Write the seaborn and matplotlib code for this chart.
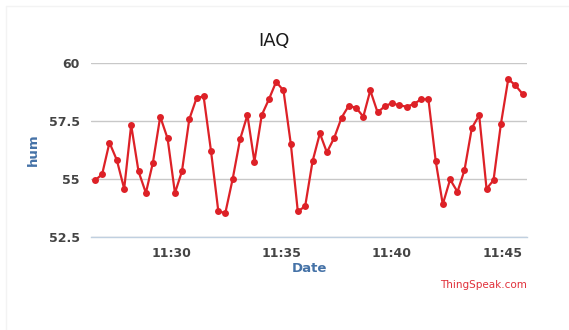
import pandas as pd
import matplotlib
matplotlib.use('Agg')
import matplotlib.pyplot as plt
import matplotlib.dates as mdates
import seaborn as sns

# Readings (time of day, humidity)
times = ['11:26:33', '11:26:52', '11:27:12', '11:27:32', '11:27:52', '11:28:11',
         '11:28:31', '11:28:51', '11:29:10', '11:29:30', '11:29:50', '11:30:10',
         '11:30:29', '11:30:49', '11:31:09', '11:31:28', '11:31:48', '11:32:08',
         '11:32:27', '11:32:47', '11:33:07', '11:33:27', '11:33:46', '11:34:06',
         '11:34:26', '11:34:45', '11:35:05', '11:35:25', '11:35:44', '11:36:04',
         '11:36:24', '11:36:44', '11:37:03', '11:37:23', '11:37:43', '11:38:02',
         '11:38:22', '11:38:42', '11:39:01', '11:39:21', '11:39:41', '11:40:00',
         '11:40:20', '11:40:40', '11:41:00', '11:41:19', '11:41:39', '11:41:59',
         '11:42:18', '11:42:38', '11:42:58', '11:43:17', '11:43:37', '11:43:57',
         '11:44:17', '11:44:36', '11:44:56', '11:45:16', '11:45:35', '11:45:55']
hum = [54.95, 55.2, 56.57, 55.82, 54.58, 57.33, 55.33, 54.4, 55.7, 57.69,
       56.75, 54.4, 55.33, 57.58, 58.5, 58.56, 56.21, 53.6, 53.54, 55.01,
       56.71, 57.76, 55.75, 57.76, 58.46, 59.19, 58.82, 56.51, 53.6, 53.83,
       55.76, 56.97, 56.15, 56.78, 57.65, 58.15, 58.08, 57.69, 58.82, 57.87,
       58.15, 58.27, 58.18, 58.12, 58.24, 58.44, 58.44, 55.76, 53.91, 54.98,
       54.45, 55.38, 57.2, 57.75, 54.58, 54.95, 57.37, 59.31, 59.05, 58.67]
y_ticks = [52.5, 55, 57.5, 60]

df = pd.DataFrame({'Date': pd.to_datetime(['2024-01-01 ' + t for t in times]),
                   'hum': hum})

sns.set_style('white')
plt.rcParams['font.family'] = ['DejaVu Sans']

fig = plt.figure(figsize=(5.69, 3.30), dpi=100)
ax = fig.add_axes([0.1594, 0.2818, 0.7668, 0.527])

sns.lineplot(data=df, x='Date', y='hum', ax=ax, color='#dd2127', linewidth=1.6,
             marker='o', markersize=5, markeredgewidth=0, markerfacecolor='#dd2127')

ax.set_ylim(52.5, 60)
ax.set_yticks(y_ticks)
ax.set_yticklabels(['52.5', '55', '57.5', '60'])
ax.set_xlim(pd.Timestamp('2024-01-01 11:26:21'), pd.Timestamp('2024-01-01 11:46:07'))
ax.xaxis.set_major_locator(mdates.MinuteLocator(byminute=[30, 35, 40, 45]))
ax.xaxis.set_major_formatter(mdates.DateFormatter('%H:%M'))

ax.grid(axis='y', color='#c8c8c8', linewidth=1)
ax.grid(axis='x', visible=False)
for s in ['top', 'right', 'left']:
    ax.spines[s].set_visible(False)
ax.spines['bottom'].set_color('#c0d0e0')
ax.spines['bottom'].set_linewidth(1)

ax.tick_params(axis='y', length=0, pad=8, labelsize=9, labelcolor='#444444')
ax.tick_params(axis='x', length=4, color='#c0d0e0', pad=3, labelsize=9, labelcolor='#444444')
for lab in ax.get_xticklabels() + ax.get_yticklabels():
    lab.set_fontweight('bold')

ax.set_xlabel('')
ax.set_ylabel('')
fig.text(33 / 569, 1 - 150 / 330, 'hum', rotation=90, ha='center', va='center',
         color='#4572a7', fontsize=9.5, fontweight='bold')
fig.text(309 / 569, 1 - 268 / 330, 'Date', ha='center', va='center',
         color='#4572a7', fontsize=9.5, fontweight='bold')
fig.text(274 / 569, 1 - 41 / 330, 'IAQ', ha='center', va='center',
         color='#1a1a1a', fontsize=13, fontweight='medium')
fig.text(527 / 569, 1 - 285 / 330, 'ThingSpeak.com', ha='right', va='center',
         color='#e0303a', fontsize=7.5)

# faint frame of the screenshot
fig.add_artist(plt.Line2D([6 / 569, 6 / 569], [0, 1 - 6 / 330], color='#f3f3f3', linewidth=1))
fig.add_artist(plt.Line2D([6 / 569, 1], [1 - 6 / 330, 1 - 6 / 330], color='#f3f3f3', linewidth=1))

fig.savefig('out.png', dpi=100)
